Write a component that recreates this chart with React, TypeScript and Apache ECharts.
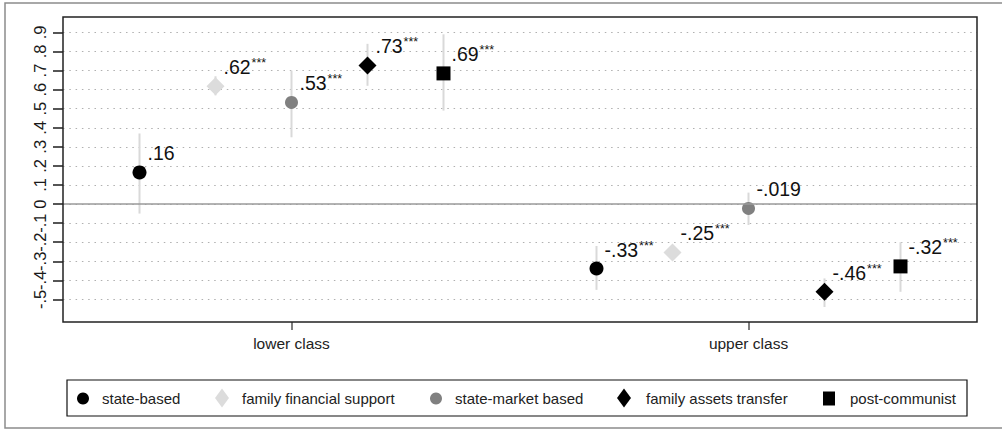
import React, { useEffect, useRef } from "react";
import * as echarts from "echarts";

// ---- data ----
const categories = ["lower class", "upper class"];
const seriesNames = [
  "state-based",
  "family financial support",
  "state-market based",
  "family assets transfer",
  "post-communist",
];
// point estimates [lower class, upper class]
const stateBased = [0.166, -0.338];
const familyFinancial = [0.617, -0.254];
const stateMarket = [0.533, -0.023];
const familyAssets = [0.727, -0.46];
const postCommunist = [0.685, -0.327];
// confidence intervals [low, high] per category
const stateBasedCI = [[-0.05, 0.37], [-0.45, -0.22]];
const familyFinancialCI = [[0.57, 0.67], [-0.29, -0.22]];
const stateMarketCI = [[0.35, 0.7], [-0.11, 0.06]];
const familyAssetsCI = [[0.62, 0.84], [-0.54, -0.39]];
const postCommunistCI = [[0.49, 0.89], [-0.46, -0.2]];
// printed labels
const stateBasedLabels = [".16", "-.33"];
const familyFinancialLabels = [".62", "-.25"];
const stateMarketLabels = [".53", "-.019"];
const familyAssetsLabels = [".73", "-.46"];
const postCommunistLabels = [".69", "-.32"];
const stateBasedSig = ["", "***"];
const familyFinancialSig = ["***", "***"];
const stateMarketSig = ["***", ""];
const familyAssetsSig = ["***", "***"];
const postCommunistSig = ["***", "***"];
const yTickValues = [-0.5, -0.4, -0.3, -0.2, -0.1, 0, 0.1, 0.2, 0.3, 0.4, 0.5, 0.6, 0.7, 0.8, 0.9];
const yTickLabels = ["-.5", "-.4", "-.3", "-.2", "-.1", "0", ".1", ".2", ".3", ".4", ".5", ".6", ".7", ".8", ".9"];

const FONT = "'Liberation Sans', Arial, sans-serif";

export default function App() {
  const ref = useRef<HTMLDivElement>(null);
  useEffect(() => {
    document.body.style.margin = "0";
    const chart = echarts.init(ref.current!, undefined, { renderer: "svg" });

    const estimates = [stateBased, familyFinancial, stateMarket, familyAssets, postCommunist];
    const cis = [stateBasedCI, familyFinancialCI, stateMarketCI, familyAssetsCI, postCommunistCI];
    const labels = [stateBasedLabels, familyFinancialLabels, stateMarketLabels, familyAssetsLabels, postCommunistLabels];
    const sigs = [stateBasedSig, familyFinancialSig, stateMarketSig, familyAssetsSig, postCommunistSig];
    const symbols = ["circle", "diamond", "circle", "diamond", "rect"];
    const sizes = [14, 18, 13, 18, 14];
    const colors = ["#000000", "#dcdcdc", "#808080", "#000000", "#000000"];
    const spread = 0.1663;
    const xPos = (cat: number, s: number) => cat + 0.5 + (s - 2) * spread;

    // legend layout (one legend component per item)
    const legendLeft = [77, 215, 430, 617, 823];
    const legendIconW = [12, 14, 12, 14, 12];
    const legendIconH = [14, 19, 14, 19, 14];
    const legendPad = [8, 8, 8, 10, 10];
    const legendMidY = 398;

    const ciData: any[] = [];
    cis.forEach((c, s) =>
      c.forEach((r, cat) => ciData.push([xPos(cat, s), r[0], r[1]]))
    );

    const series: any[] = [
      {
        type: "custom",
        name: "ci",
        z: 1,
        silent: true,
        data: ciData,
        encode: { x: 0, y: [1, 2] },
        renderItem: (params: any, api: any) => {
          const p1 = api.coord([api.value(0), api.value(1)]);
          const p2 = api.coord([api.value(0), api.value(2)]);
          return {
            type: "line",
            shape: { x1: p1[0], y1: p1[1], x2: p2[0], y2: p2[1] },
            style: { stroke: "#d9d9d9", lineWidth: 2 },
          };
        },
        markLine: {
          silent: true,
          symbol: "none",
          label: { show: false },
          lineStyle: { color: "#9a9a9a", type: "solid", width: 1.5 },
          data: [{ yAxis: 0 }],
        },
      },
    ];
    seriesNames.forEach((name, s) => {
      series.push({
        type: "scatter",
        name,
        z: 3,
        symbol: symbols[s],
        symbolSize: sizes[s],
        itemStyle: { color: colors[s], opacity: 1 },
        data: estimates[s].map((v, cat) => ({
          value: [xPos(cat, s), v],
          label: {
            formatter: sigs[s][cat]
              ? `{v|${labels[s][cat]}}{s|${sigs[s][cat]}}`
              : `{v|${labels[s][cat]}}`,
          },
        })),
        label: {
          show: true,
          position: "inside",
          align: "left",
          verticalAlign: "middle",
          offset: [8, -19],
          rich: {
            v: { fontSize: 19.5, color: "#111", fontFamily: FONT },
            s: { fontSize: 12.5, color: "#111", fontFamily: FONT, verticalAlign: "top", padding: [0, 0, 8, 1] },
          },
        },
      });
    });

    const legends = seriesNames.map((name, i) => ({
      show: true,
      data: [name],
      left: legendLeft[i],
      top: legendMidY - legendIconH[i] / 2,
      padding: 0,
      itemWidth: legendIconW[i],
      itemHeight: legendIconH[i],
      symbolKeepAspect: false,
      selectedMode: false,
      textStyle: { fontSize: 15, color: "#222", fontFamily: FONT, padding: [0, 0, 0, legendPad[i]] },
    }));

    chart.setOption({
      animation: false,
      textStyle: { fontFamily: FONT },
      grid: { left: 63, right: 25, top: 32.4, bottom: 130.6, containLabel: false },
      graphic: [
        {
          type: "rect",
          shape: { x: 5, y: 3, width: 1005, height: 425 },
          style: { fill: "none", stroke: "#8c8c8c", lineWidth: 1.5 },
          silent: true,
          z: -10,
        },
        {
          type: "rect",
          shape: { x: 63, y: 17, width: 914, height: 305 },
          style: { fill: "none", stroke: "#222", lineWidth: 1.5 },
          silent: true,
          z: 100,
        },
        {
          type: "rect",
          shape: { x: 67, y: 380, width: 900, height: 36 },
          style: { fill: "none", stroke: "#111", lineWidth: 1.2 },
          silent: true,
          z: 100,
        },
      ],
      xAxis: {
        type: "value",
        min: 0,
        max: 2,
        offset: 22.6,
        position: "bottom",
        axisLine: { show: false, onZero: false },
        splitLine: { show: false },
        axisTick: { show: true, length: 8, customValues: [0.5, 1.5], lineStyle: { color: "#555", width: 1.5 } },
        axisLabel: {
          customValues: [0.5, 1.5],
          formatter: (v: number) => categories[Math.round(v - 0.5)] ?? "",
          fontSize: 15.5,
          color: "#222",
          margin: 13,
          fontFamily: FONT,
        },
      },
      yAxis: {
        type: "value",
        min: -0.5,
        max: 0.9,
        interval: 0.1,
        axisLine: { show: false },
        axisTick: { show: true, length: 10, lineStyle: { color: "#555", width: 2 } },
        axisLabel: {
          rotate: 90,
          fontSize: 16.5,
          color: "#1a1a1a",
          margin: 15,
          fontFamily: FONT,
          showMinLabel: true,
          showMaxLabel: true,
          formatter: (v: number) => {
            const i = yTickValues.findIndex((t) => Math.abs(t - v) < 1e-6);
            return i >= 0 ? yTickLabels[i] : "";
          },
        },
        splitLine: { show: true, lineStyle: { color: "#b0b0b0", type: [1.5, 4.8], width: 1.2 } },
      },
      legend: legends,
      series,
    });
    return () => chart.dispose();
  }, []);
  return (
    <div
      ref={ref}
      style={{ width: 1002, height: 430, position: "fixed", left: 0, top: 0, background: "#fff" }}
    />
  );
}
